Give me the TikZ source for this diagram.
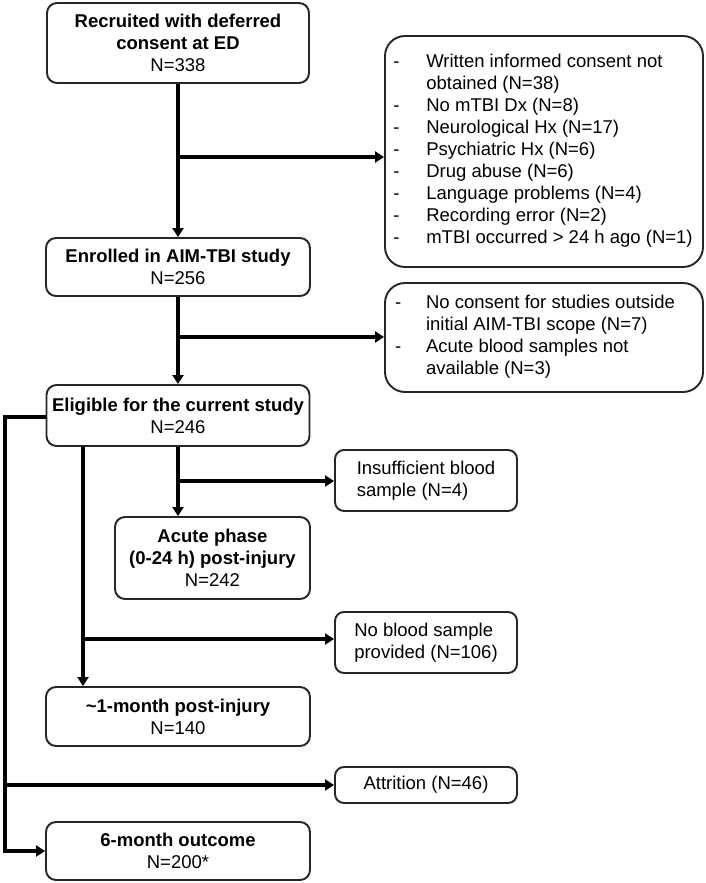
\documentclass[tikz,border=0pt]{standalone}
\usepackage{fontspec}
\setmainfont{Liberation Sans}
\usetikzlibrary{arrows.meta}
\begin{document}
\begin{tikzpicture}[x=1pt,y=-1pt,
 box/.style={draw=black!85, line width=1.9pt, rounded corners=10pt, align=center, inner sep=0pt, font=\fontsize{18.5}{22}\selectfont},
 sidebox/.style={box, align=left, rounded corners=9pt},
 bigbox/.style={box, align=left, rounded corners=20pt},
 conn/.style={line width=3.4pt, -{Triangle[length=9pt,width=11pt]}}]
\useasboundingbox[fill=white] (0,0) rectangle (705,883);

\node[box, minimum width=262pt, minimum height=80pt] (rec) at (178,43)
  {\textbf{Recruited with deferred}\\\textbf{consent at ED}\\N=338};
\node[box, minimum width=264pt, minimum height=58pt] (enr) at (178,267)
  {\textbf{Enrolled in AIM-TBI study}\\N=256};
\node[box, minimum width=263pt, minimum height=61pt] (elig) at (178,415.5)
  {\textbf{Eligible for the current study}\\N=246};
\node[box, minimum width=195pt, minimum height=82pt] (acute) at (212.5,558)
  {\textbf{Acute phase}\\\textbf{(0-24 h) post-injury}\\N=242};
\node[box, minimum width=264pt, minimum height=59pt] (mon1) at (178,716.5)
  {\textbf{\textasciitilde1-month post-injury}\\N=140};
\node[box, minimum width=264pt, minimum height=58pt] (mon6) at (178,851)
  {\textbf{6-month outcome}\\N=200*};

\node[bigbox, minimum width=318pt, minimum height=231pt] (ex1) at (544,151.5)
  {\begin{tabular}{@{}p{33pt}@{}l@{}}
  - & Written informed consent not\\
    & obtained (N=38)\\
  - & No mTBI Dx (N=8)\\
  - & Neurological Hx (N=17)\\
  - & Psychiatric Hx (N=6)\\
  - & Drug abuse (N=6)\\
  - & Language problems (N=4)\\
  - & Recording error (N=2)\\
  - & mTBI occurred > 24 h ago (N=1)
  \end{tabular}\hspace*{2pt}};
\node[bigbox, minimum width=318pt, minimum height=109pt] (ex2) at (544,337.5)
  {\begin{tabular}{@{}p{31pt}@{}l@{}}
  - & No consent for studies outside\\
    & initial AIM-TBI scope (N=7)\\
  - & Acute blood samples not\\
    & available (N=3)
  \end{tabular}\hspace*{18pt}};
\node[sidebox, minimum width=182pt, minimum height=61pt] (ins) at (426,480.5)
  {Insufficient blood\\sample (N=4)\hspace*{4pt}};
\node[sidebox, minimum width=182pt, minimum height=61pt] (nob) at (426,642.5)
  {No blood sample\\provided (N=106)};
\node[sidebox, minimum width=182pt, minimum height=36pt] (att) at (426,785)
  {Attrition (N=46)};

\coordinate (j1) at (178,157);
\coordinate (j2) at (178,337);
\coordinate (j3) at (178,481);
\coordinate (k) at (83,446);
\coordinate (j4) at (83,639);
\coordinate (l) at (5,417);
\coordinate (j5) at (5,785);

\draw[conn] (rec.south) -- (enr.north);
\draw[conn] (j1) -- (j1 -| ex1.west);
\draw[conn] (enr.south) -- (elig.north);
\draw[conn] (j2) -- (j2 -| ex2.west);
\draw[conn] (elig.south) -- (elig.south |- acute.north);
\draw[conn] (j3) -- (j3 -| ins.west);
\draw[conn] (k) -- (k |- mon1.north);
\draw[conn] (j4) -- (j4 -| nob.west);
\draw[conn] (elig.west |- l) -- (l) -- (l |- mon6.west) -- (mon6.west);
\draw[conn] (j5) -- (j5 -| att.west);
\end{tikzpicture}
\end{document}
